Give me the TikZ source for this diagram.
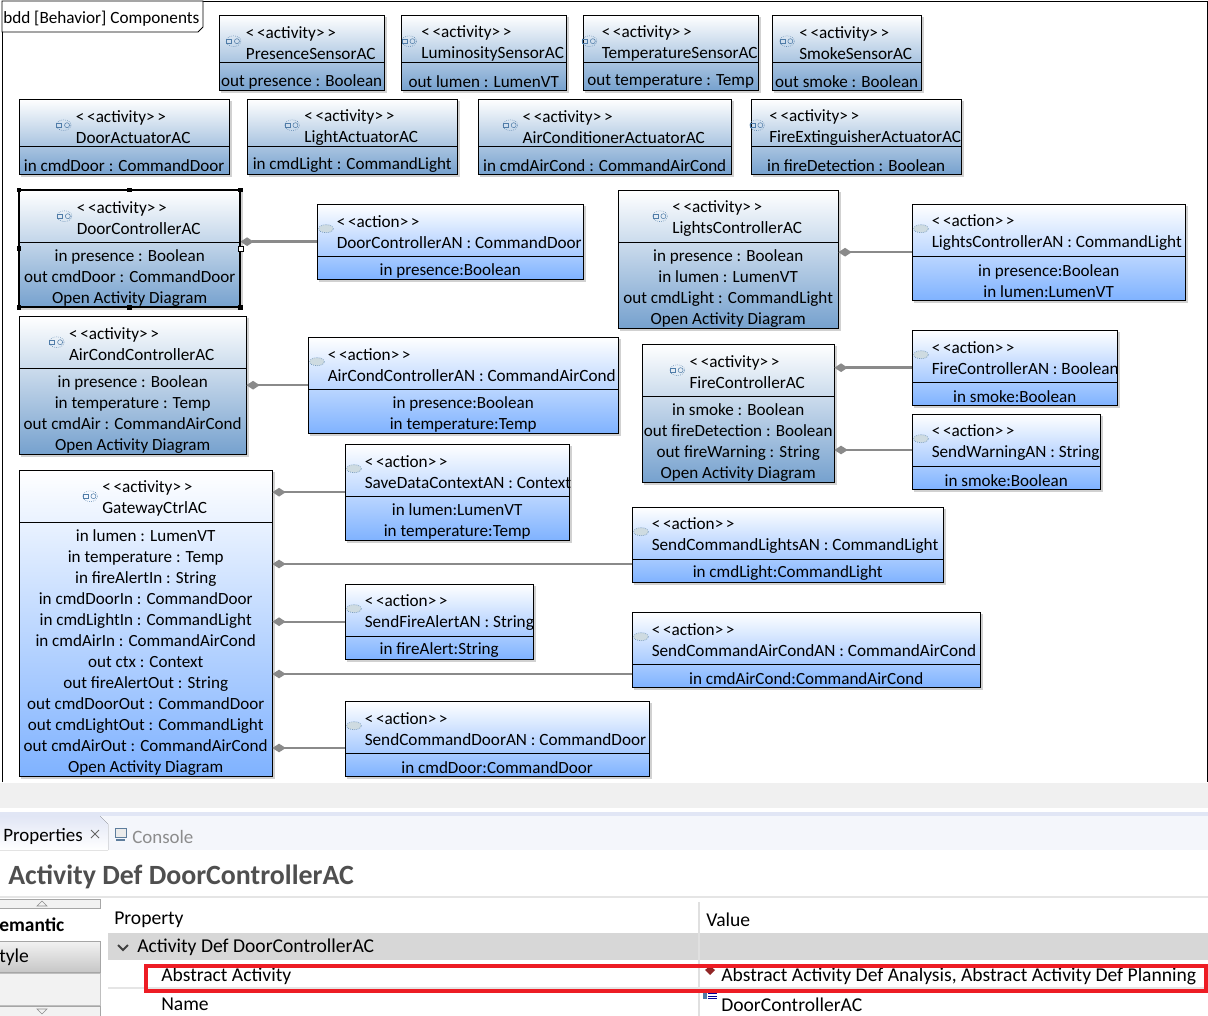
\documentclass[tikz,border=0pt]{standalone}
\usepackage{fontspec}
\setmainfont{Carlito}
\usetikzlibrary{arrows.meta,shapes.geometric,shadows}
\definecolor{actblue}{HTML}{76A1CE}
\definecolor{anblue}{HTML}{7FB2FF}
\definecolor{linkgray}{HTML}{8A8A8A}
\definecolor{iconblue}{HTML}{4F7CA8}
\definecolor{tabblue}{HTML}{E1E6F5}
\definecolor{tabstrip}{HTML}{F4F6FB}
\definecolor{rowgray}{HTML}{D7D7D7}
\definecolor{markred}{HTML}{ED1C24}
\definecolor{titlegray}{HTML}{4F4F4F}
\tikzset{
  blockbase/.style={draw=black,line width=.65pt,inner sep=0pt,outer sep=0pt,
    drop shadow={shadow xshift=1.6pt,shadow yshift=-1.6pt,fill=black!30,opacity=.6}},
  actbox/.style={blockbase,top color=white,bottom color=actblue},
  anbox/.style={blockbase,top color=white,bottom color=anblue},
  blockline/.style={black,line width=.65pt},
  blocktext/.style={inner sep=0pt,align=center,font=\fontsize{12.8}{15.75}\selectfont},
  headtext/.style={blocktext,align=left,font=\fontsize{12.9}{15.75}\selectfont},
  paneltext/.style={inner sep=0pt,anchor=west,font=\fontsize{14.7}{15}\selectfont},
  link/.style={{Diamond[length=10pt,width=6.5pt]}-,linkgray,line width=1.8pt},
  actring/.style={ellipse,draw=iconblue,densely dotted,line width=.45pt,inner sep=0pt,
    minimum width=11pt,minimum height=8pt},
  anring/.style={ellipse,draw=iconblue,densely dotted,fill=cyan!25!gray!35,line width=.45pt,
    inner sep=0pt,minimum width=11pt,minimum height=6pt},
  handle/.style={fill=black,inner sep=0pt,minimum size=3.6pt},
}
\newcommand{\bodydrop}{3.5}
% style, name, left, top, right, bottom, divider, title, body
\newcommand{\activityblock}[9][actbox]{
  \node[#1,anchor=north west,minimum width={(#5-#3-.6)*.75pt},minimum height={(#6-#4-.6)*.75pt}] (#2) at (#3,#4) {};
  \draw[blockline] (#2.west |- 0,#7) -- (#2.east |- 0,#7);
  \node[headtext] (#2head) at ([shift={(9,28.2)}]#2.north) {<\kern2pt<activity>\kern2pt>\\#8};
  \node[actring] (#2icon) at ([shift={(-12,-2)}]#2head.west) {};
  \draw[iconblue,line width=.4pt] ([xshift=-3.5]#2icon.center) +(-2.5,-2) rectangle +(2.5,2);
  \draw[iconblue,line width=.4pt] ([xshift=2.5]#2icon.center) circle[radius=2.5];
  \node[blocktext] (#2body) at (#2.center |- 0,{(#7+#6)/2+\bodydrop}) {#9};
}
\newcommand{\actionblock}[8]{
  \node[anbox,anchor=north west,minimum width={(#4-#2-.6)*.75pt},minimum height={(#5-#3-.6)*.75pt}] (#1) at (#2,#3) {};
  \draw[blockline] (#1.west |- 0,#6) -- (#1.east |- 0,#6);
  \node[headtext,anchor=west] (#1head) at ([shift={(19.5,28.2)}]#1.north west) {<\kern2pt<action>\kern2pt>\\#7};
  \node[anring] (#1icon) at ([shift={(-10.5,-3.5)}]#1head.west) {};
  \node[blocktext] (#1body) at (#1.center |- 0,{(#6+#5)/2+\bodydrop}) {#8};
}
\begin{document}
\begin{tikzpicture}[x=.75pt,y=-.75pt]
\useasboundingbox (0,0) rectangle (1208,1016);
% diagram frame
\coordinate (frameA) at (2,782);
\coordinate (frameB) at (2,1);
\coordinate (frameC) at (1207,1);
\coordinate (frameD) at (1207,782);
\draw[line width=.7pt] (frameA) -- (frameB) -- (frameC) -- (frameD);
\draw[line width=.7pt,fill=white] (2,1) -- (203,1) -- (203,27) -- (198,32) -- (2,32) -- cycle;
\node[paneltext,font=\fontsize{12.9}{15}\selectfont] (framelabel) at (3,18.5) {bdd [Behavior] Components};
% sensors
\renewcommand{\bodydrop}{5}
\activityblock{presenceAC}{219}{15}{385}{91}{62}{PresenceSensorAC}{out presence : Boolean}
\activityblock{lumenAC}{401}{15}{567}{91}{62}{LuminositySensorAC}{out lumen : LumenVT}
\activityblock{tempAC}{583}{15}{759}{91}{62}{TemperatureSensorAC}{out temperature : Temp}
\activityblock{smokeAC}{772}{15}{922}{91}{62}{SmokeSensorAC}{out smoke : Boolean}
% actuators
\activityblock{doorActAC}{19}{99}{230}{175}{146}{DoorActuatorAC}{in cmdDoor : CommandDoor}
\activityblock{lightActAC}{247}{99}{458}{175}{146}{LightActuatorAC}{in cmdLight : CommandLight}
\activityblock{airActAC}{478}{99}{732}{175}{146}{AirConditionerActuatorAC}{in cmdAirCond : CommandAirCond}
\activityblock{fireActAC}{751}{99}{962}{175}{146}{FireExtinguisherActuatorAC}{in fireDetection : Boolean}
% controllers
\renewcommand{\bodydrop}{3.5}
\activityblock{doorAC}{19}{190}{241}{308}{242}{DoorControllerAC}{in presence : Boolean\\out cmdDoor : CommandDoor\\Open Activity Diagram}
\activityblock{lightsAC}{618}{190}{839}{329}{242}{LightsControllerAC}{in presence : Boolean\\in lumen : LumenVT\\out cmdLight : CommandLight\\Open Activity Diagram}
\activityblock{airAC}{19}{316}{247}{455}{368}{AirCondControllerAC}{in presence : Boolean\\in temperature : Temp\\out cmdAir : CommandAirCond\\Open Activity Diagram}
\activityblock{fireAC}{642}{344}{835}{483}{396}{FireControllerAC}{in smoke : Boolean\\out fireDetection : Boolean\\out fireWarning : String\\Open Activity Diagram}
\activityblock[anbox]{gatewayAC}{19}{470}{273}{777}{522}{GatewayCtrlAC}{in lumen : LumenVT\\in temperature : Temp\\in fireAlertIn : String\\in cmdDoorIn : CommandDoor\\in cmdLightIn : CommandLight\\in cmdAirIn : CommandAirCond\\out ctx : Context\\out fireAlertOut : String\\out cmdDoorOut : CommandDoor\\out cmdLightOut : CommandLight\\out cmdAirOut : CommandAirCond\\Open Activity Diagram}
% actions
\renewcommand{\bodydrop}{2.5}
\actionblock{doorAN}{317}{204}{584}{280}{256}{DoorControllerAN : CommandDoor}{in presence:Boolean}
\actionblock{lightsAN}{912}{204}{1186}{301}{256}{LightsControllerAN : CommandLight}{in presence:Boolean\\in lumen:LumenVT}
\actionblock{airAN}{308}{337}{619}{434}{389}{AirCondControllerAN : CommandAirCond}{in presence:Boolean\\in temperature:Temp}
\actionblock{fireAN}{912}{330}{1118}{406}{382}{FireControllerAN : Boolean}{in smoke:Boolean}
\actionblock{warnAN}{912}{414}{1101}{490}{466}{SendWarningAN : String}{in smoke:Boolean}
\actionblock{saveAN}{345}{444}{570}{541}{496}{SaveDataContextAN : Context}{in lumen:LumenVT\\in temperature:Temp}
\actionblock{cmdLightsAN}{632}{507}{944}{583}{559}{SendCommandLightsAN : CommandLight}{in cmdLight:CommandLight}
\actionblock{alertAN}{345}{584}{534}{660}{636}{SendFireAlertAN : String}{in fireAlert:String}
\actionblock{cmdAirAN}{632}{612}{981}{688}{664}{SendCommandAirCondAN : CommandAirCond}{in cmdAirCond:CommandAirCond}
\actionblock{cmdDoorAN}{345}{701}{650}{777}{753}{SendCommandDoorAN : CommandDoor}{in cmdDoor:CommandDoor}
% links
\draw[link] (doorAC.east |- doorAN.west) -- (doorAN.west);
\draw[link] (lightsAC.east |- lightsAN.west) -- (lightsAN.west);
\draw[link] (airAC.east |- airAN.west) -- (airAN.west);
\draw[link] (fireAC.east |- fireAN.west) -- (fireAN.west);
\draw[link] (fireAC.east |- 0,450) -- (warnAN.west |- 0,450);
\draw[link] (gatewayAC.east |- saveAN.west) -- (saveAN.west);
\draw[link] (gatewayAC.east |- 0,564) -- (cmdLightsAN.west |- 0,564);
\draw[link] (gatewayAC.east |- alertAN.west) -- (alertAN.west);
\draw[link] (gatewayAC.east |- 0,674) -- (cmdAirAN.west |- 0,674);
\draw[link] (gatewayAC.east |- 0,748) -- (cmdDoorAN.west |- 0,748);
% selection handles
\draw[line width=1.4pt] (doorAC.north west) rectangle (doorAC.south east);
\foreach \a in {north west,north,north east,west,south west,south,south east}
  \node[handle] at (doorAC.\a) {};
\node[handle,fill=white,draw=black,line width=.4pt] at (doorAC.east) {};
% properties panel
\fill[black!6] (0,783) rectangle (1208,808);
\fill[tabblue] (0,812) rectangle (1208,820);
\fill[tabstrip] (0,816) rectangle (1208,850);
\fill[top color=tabblue,bottom color=white] (0,816) -- (100,816) -- (108,824) -- (108,850) -- (0,850) -- cycle;
\node[paneltext,font=\fontsize{14.2}{15}\selectfont] (proptab) at (3,836.5) {Properties};
\draw[black!60,line width=.7pt] (91,830) -- (99,838) (99,830) -- (91,838);
\draw[iconblue!70!gray,fill=black!8,line width=.7pt] (115,828) rectangle (126,837);
\draw[iconblue!70!gray,line width=1pt] (116,840) -- (125,840);
\node[paneltext,font=\fontsize{14.2}{15}\selectfont,text=black!45] (consoletab) at (132,836.5) {Console};
\node[paneltext,font=\bfseries\fontsize{20.9}{22}\selectfont,text=titlegray] (paneltitle) at (8,877) {Activity Def DoorControllerAC};
\draw[black!10,line width=1pt] (0,897) -- (1208,897);
% left tabs of the panel
\draw[black!35,fill=black!5,line width=.6pt] (-2,899) rectangle (100,908);
\draw[black!45,line width=.4pt] (37,906) -- (42,901) -- (47,906) -- cycle;
\node[paneltext,font=\bfseries\fontsize{14.6}{15}\selectfont] (semantictab) at (-1,925) {emantic};
\draw[black!35,top color=black!5,bottom color=black!22,line width=.6pt] (-2,941) rectangle (100,972);
\node[paneltext] (styletab) at (-1,957.5) {tyle};
\draw[black!25,fill=black!5,line width=.6pt] (-2,973) rectangle (100,1005);
\draw[black!35,fill=black!5,line width=.6pt] (-2,1006) rectangle (100,1020);
\draw[black!45,line width=.4pt] (37,1009) -- (42,1014) -- (47,1009) -- cycle;
% property table
\node[paneltext] (propheader) at (114,919.5) {Property};
\node[paneltext] (valueheader) at (706,919.5) {Value};
\fill[rowgray] (108,933) rectangle (1208,960);
\draw[black!12,line width=.8pt] (699,902) -- (699,1016);
\draw[black!10,line width=.8pt] (108,988) -- (1208,988);
\draw[line width=1.5pt,black!75] (118,945) -- (123,950) -- (128,945);
\node[paneltext] (rowdef) at (137,947.5) {Activity Def DoorControllerAC};
\node[paneltext] (rowabstract) at (161,976.5) {Abstract Activity};
\node[paneltext] (rowname) at (161,1004.5) {Name};
\node[paneltext] (valabstract) at (721,976.5) {Abstract Activity Def Analysis, Abstract Activity Def Planning};
\node[paneltext] (valname) at (721,1004.5) {DoorControllerAC};
\fill[black!40!red!70!gray] (705,970) -- (710,966) -- (715,970) -- (710,975) -- cycle;
\fill[iconblue] (703,993) rectangle (707,999);
\foreach \y in {993.5,996,998.5}
  \draw[blue!60!black,line width=.6pt] (708,\y) -- (717,\y);
\draw[markred,line width=2.4pt] (146,966) rectangle (1206,991);
\end{tikzpicture}
\end{document}
